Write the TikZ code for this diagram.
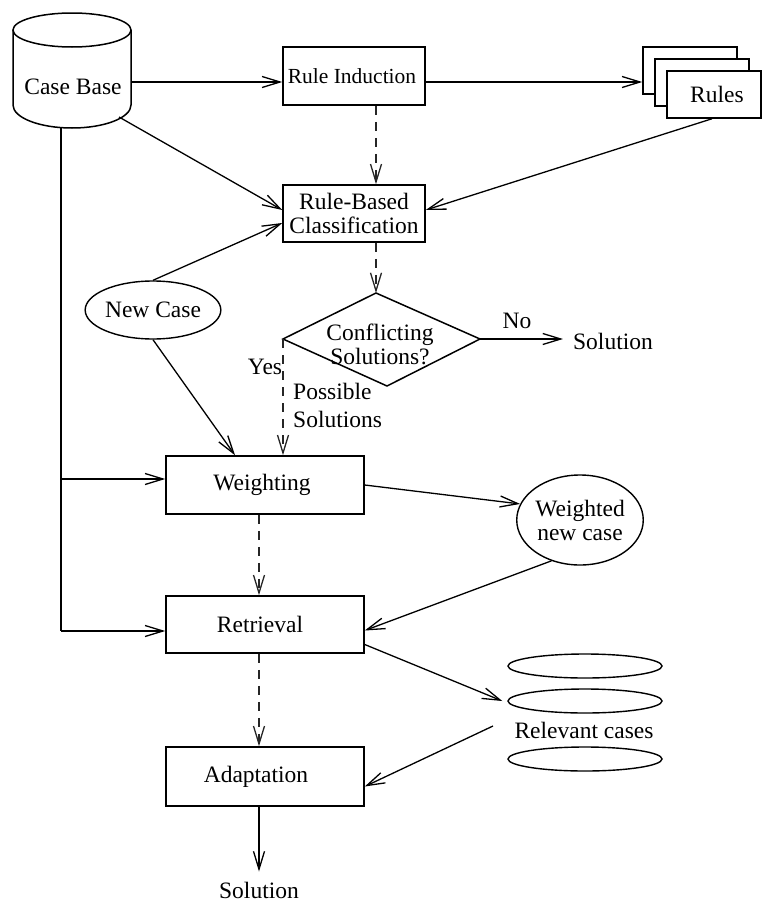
\documentclass[tikz,border=0pt]{standalone}
\usepackage{fontspec}
\setmainfont{Liberation Serif}
\usetikzlibrary{arrows.meta,shapes.geometric,calc}
\begin{document}
\begin{tikzpicture}[x=1pt,y=-1pt,
  every node/.style={font=\fontsize{23.5}{24}\selectfont, inner sep=0pt},
  boxnode/.style={draw, line width=1.5pt, fill=white, minimum width=142pt, minimum height=58pt, align=center},
  wbox/.style={boxnode, minimum width=198pt},
  stackbox/.style={draw, line width=1.5pt, fill=white, minimum width=94pt, minimum height=47pt},
  arr/.style={line width=1.3pt, -{Straight Barb[length=18pt,width=11pt,line width=1.3pt]}},
  darr/.style={arr, dash pattern=on 9pt off 7pt, black!85},
  plain/.style={line width=1.3pt},
  ell/.style={draw, ellipse, line width=1.4pt, fill=white, align=center}]
\useasboundingbox (0,0) rectangle (765,902);

% Case base cylinder
\draw[line width=1.5pt, fill=white] (13,30) -- (13,105) arc[start angle=180,end angle=0,x radius=59,y radius=23] -- (131,30);
\draw[line width=1.5pt, fill=white] (72,30) ellipse[x radius=59,y radius=17];
\node (cb) at (73,87) {Case Base};
\coordinate (cbE) at (131,82);
\coordinate (cbSE) at (119,117);
\coordinate (cbS) at (61,127);

% Boxes
\node[boxnode, font=\fontsize{21.5}{24}\selectfont] (ri) at (354,76) {Rule Induction\hspace*{4pt}};
\node[boxnode, minimum height=57pt] (rbc) at (354,213.5) {Rule-Based\\Classification};
\node[wbox] (wt) at (265,485) {Weighting\hspace*{6pt}};
\node[wbox, minimum height=57pt] (rt) at (265,624.5) {Retrieval\hspace*{10pt}};
\node[wbox, minimum height=59pt] (ad) at (265,776.5) {Adaptation\hspace*{18pt}};

% Rules stack
\node[stackbox] (r1) at (690,70.5) {};
\node[stackbox] (r2) at (702,82.5) {};
\node[stackbox] (r3) at (714,94.5) {\hspace*{6pt}\raisebox{-3pt}{Rules}};

% Diamond
\coordinate (dT) at (376,293);
\coordinate (dR) at (480,339);
\coordinate (dB) at (387,386);
\coordinate (dL) at (283,339);
\draw[line width=1.5pt] (dT) -- (dR) -- (dB) -- (dL) -- cycle;
\node[align=center] (dq) at (380,344) {Conflicting\\Solutions?};

% Ellipses
\node[ell, minimum width=116pt, minimum height=58pt] (nc) at (153,310) {New Case};
\node[ell, minimum width=122pt, minimum height=90pt] (wn) at (580,520) {Weighted\\new case};
\node[ell, minimum width=154pt, minimum height=24pt] (rc1) at (585,666) {};
\node[ell, minimum width=154pt, minimum height=24pt] (rc2) at (585,701) {};
\node[ell, minimum width=154pt, minimum height=24pt] (rc3) at (585,759) {};
\node (rct) at (584,730) {Relevant cases};

% Text labels
\node (sol1) at (613,341) {Solution};
\node (no) at (517,321) {No};
\node (yes) at (265,367) {Yes};
\node[anchor=west] (ps1) at (293,391) {Possible};
\node[anchor=west] (ps2) at (293,419) {Solutions};
\node (sol2) at (259,890) {Solution};

% coordinates
\coordinate (dx) at (376,0);
\coordinate (lc1) at (61,479);
\coordinate (lc2) at (61,631);
\coordinate (rcin) at (493,726);

% Connectors
\draw[arr] (cbE) -- (cbE -| ri.west);
\draw[arr] (ri.east |- cbE) -- (r1.west |- cbE);
\draw[darr] (ri.south -| dx) -- (rbc.north -| dx);
\draw[arr] (cbSE) -- ($(rbc.west)+(0,-3.5)$);
\draw[arr] ($(r3.south)+(-2,0)$) -- ($(rbc.east)+(0,-3.5)$);
\draw[arr] (nc.north) -- ($(rbc.west)+(0,9.5)$);
\draw[darr] (rbc.south -| dx) -- (dT);
\draw[arr] (dR) -- ($(sol1.west)+(-10,-2)$);
\draw[darr] (dL) -- (dL |- wt.north);
\draw[arr] (nc.south) -- ($(wt.north)+(-30,0)$);
\draw[plain] (cbS) -- (lc2);
\draw[arr] (lc1) -- (lc1 -| wt.west);
\draw[arr] (lc2) -- (lc2 -| rt.west);
\draw[darr] ($(wt.south)+(-6,0)$) -- ($(rt.north)+(-6,0)$);
\draw[darr] ($(rt.south)+(-6,0)$) -- ($(ad.north)+(-6,0)$);
\draw[arr] ($(ad.south)+(-6,0)$) -- ($(sol2.north)+(0,-10)$);
\draw[arr] (wt.east) -- (wn.165);
\draw[arr] (wn.235) -- ($(rt.east)+(0,6)$);
\draw[arr] ($(rt.east)+(0,20)$) -- ($(rc2.west)+(-5,0)$);
\draw[arr] (rcin) -- ($(ad.east)+(0,10)$);
\end{tikzpicture}
\end{document}
